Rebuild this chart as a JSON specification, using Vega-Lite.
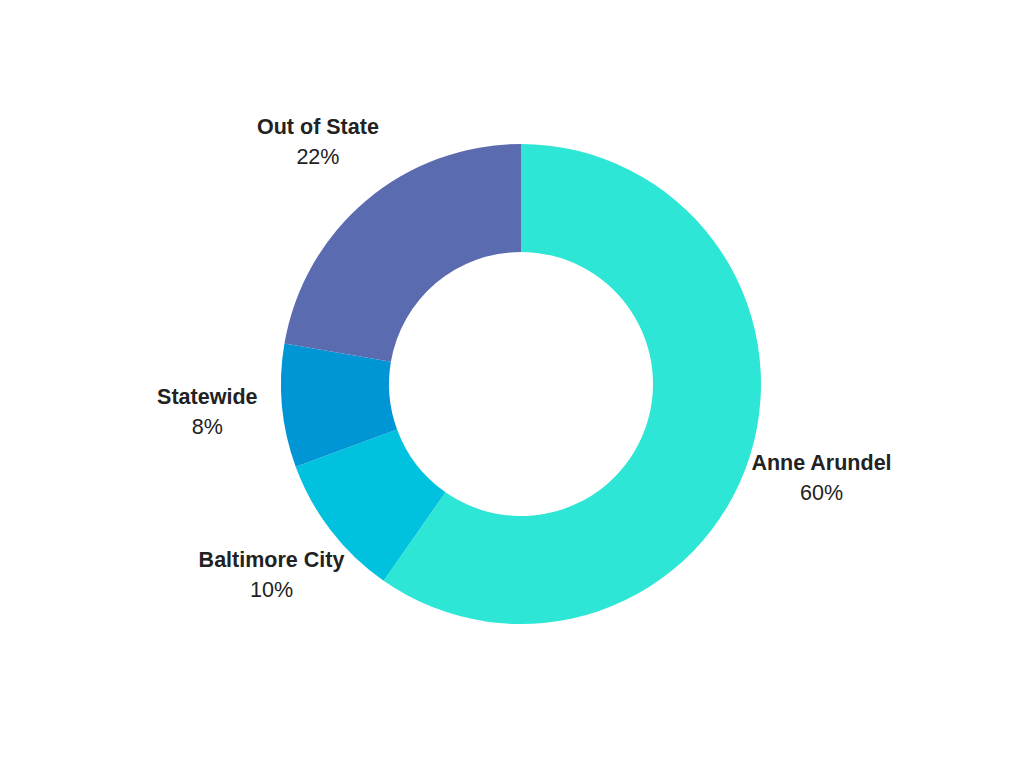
{
  "$schema": "https://vega.github.io/schema/vega-lite/v6.json",
  "width": 1006,
  "height": 768,
  "autosize": "none",
  "padding": {"left": 18, "top": 0, "right": 0, "bottom": 0},
  "background": "white",
  "view": {"stroke": null},
  "data": {
    "values": [
      {"region": "Anne Arundel", "value": 59.7, "pct": "60%", "ord": 1},
      {"region": "Baltimore City", "value": 9.7, "pct": "10%", "ord": 2},
      {"region": "Statewide", "value": 8.3, "pct": "8%", "ord": 3},
      {"region": "Out of State", "value": 22.3, "pct": "22%", "ord": 4}
    ]
  },
  "encoding": {
    "theta": {"field": "value", "type": "quantitative", "stack": true},
    "order": {"field": "ord", "type": "quantitative"}
  },
  "layer": [
    {
      "mark": {"type": "arc", "outerRadius": 240, "innerRadius": 132},
      "encoding": {
        "color": {
          "field": "region",
          "type": "nominal",
          "scale": {
            "domain": ["Anne Arundel", "Baltimore City", "Statewide", "Out of State"],
            "range": ["#2ee6d6", "#00c1de", "#0096d6", "#5a6bb0"]
          },
          "legend": null
        }
      }
    },
    {
      "mark": {"type": "text", "radius": 315, "dy": -15, "font": "Liberation Sans", "fontSize": 21.5, "fontWeight": "bold", "fill": "#222222", "align": "center", "baseline": "middle"},
      "encoding": {"text": {"field": "region"}}
    },
    {
      "mark": {"type": "text", "radius": 315, "dy": 15, "font": "Liberation Sans", "fontSize": 21.5, "fill": "#222222", "align": "center", "baseline": "middle"},
      "encoding": {"text": {"field": "pct"}}
    }
  ]
}
